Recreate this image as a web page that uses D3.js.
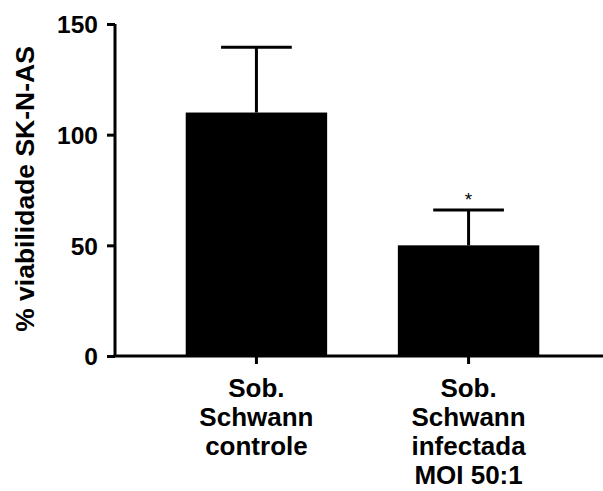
<!DOCTYPE html>
<html>
<head>
<meta charset="utf-8">
<script src="https://cdn.jsdelivr.net/npm/d3@7"></script>
<style>
  body { margin: 0; background: #fff; }
  text { font-family: "Liberation Sans", Arial, sans-serif; font-weight: bold; fill: #000; }
</style>
</head>
<body>
<div id="chart"></div>
<script>
// data
const categories = ['controle', 'infectada']
const labels = [['Sob.', 'Schwann', 'controle'], ['Sob.', 'Schwann', 'infectada', 'MOI 50:1']]
const means = [110, 50]
const errs = [29.5, 16]
const marks = ['', '*']
const yTicks = [0, 50, 100, 150]

const W = 603, H = 491

const svg = d3.select('#chart').append('svg')
    .attr('width', W)
    .attr('height', H)

const x = d3.scaleBand()
    .domain(categories)
    .range([115, 610])
    .paddingInner(1 / 3)
    .paddingOuter(1 / 3)

const y = d3.scaleLinear()
    .domain([0, 150])
    .range([356, 24])

// bars
svg.selectAll('rect.bar')
    .data(categories)
    .join('rect')
        .attr('class', 'bar')
        .attr('x', d => x(d))
        .attr('width', x.bandwidth())
        .attr('y', (d, i) => y(means[i]))
        .attr('height', (d, i) => y(0) - y(means[i]))
        .attr('fill', '#000')

// error bars (upper only)
const eb = svg.append('g').attr('stroke', '#000').attr('stroke-width', 3)
eb.selectAll('line.v')
    .data(categories)
    .join('line')
        .attr('class', 'v')
        .attr('x1', d => x(d) + x.bandwidth() / 2)
        .attr('x2', d => x(d) + x.bandwidth() / 2)
        .attr('y1', (d, i) => y(means[i]))
        .attr('y2', (d, i) => y(means[i] + errs[i]))
eb.selectAll('line.cap')
    .data(categories)
    .join('line')
        .attr('class', 'cap')
        .attr('x1', d => x(d) + x.bandwidth() / 4)
        .attr('x2', d => x(d) + x.bandwidth() * 3 / 4)
        .attr('y1', (d, i) => y(means[i] + errs[i]))
        .attr('y2', (d, i) => y(means[i] + errs[i]))

// significance marks
svg.selectAll('text.mark')
    .data(categories)
    .join('text')
        .attr('class', 'mark')
        .attr('x', d => x(d) + x.bandwidth() / 2)
        .attr('y', (d, i) => y(means[i] + errs[i]) - 4)
        .attr('text-anchor', 'middle')
        .style('font-size', '19px')
        .style('font-weight', 'normal')
        .text((d, i) => marks[i])

// y axis
const yAxis = svg.append('g')
    .attr('transform', 'translate(115,0)')
    .call(d3.axisLeft(y).tickValues(yTicks).tickSize(8).tickPadding(9))
yAxis.select('.domain').attr('stroke-width', 3).attr('d', `M0,${y(150)}V${y(0)}`)
yAxis.selectAll('.tick line').attr('stroke-width', 3)
yAxis.selectAll('.tick text')
    .style('font-size', '24.5px')
    .attr('dy', '0.36em')

// x axis
const xAxis = svg.append('g')
    .attr('transform', `translate(0,${y(0)})`)
    .call(d3.axisBottom(x).tickSize(8).tickFormat(''))
xAxis.select('.domain').attr('stroke-width', 3).attr('d', `M113.5,0H${W}`)
xAxis.selectAll('.tick line').attr('stroke-width', 3)

// category labels
const lab = svg.append('g')
lab.selectAll('text')
    .data(categories)
    .join('text')
        .attr('text-anchor', 'middle')
        .attr('x', d => x(d) + x.bandwidth() / 2)
        .attr('y', 397)
        .style('font-size', '26px')
        .each(function (d, i) {
            d3.select(this).selectAll('tspan')
                .data(labels[i])
                .join('tspan')
                    .attr('x', x(d) + x.bandwidth() / 2)
                    .attr('dy', (t, j) => j === 0 ? 0 : 29)
                    .text(t => t)
        })

// y title
svg.append('text')
    .attr('transform', 'translate(34,189) rotate(-90)')
    .attr('text-anchor', 'middle')
    .style('font-size', '26.5px')
    .text('% viabilidade SK-N-AS')
</script>
</body>
</html>
